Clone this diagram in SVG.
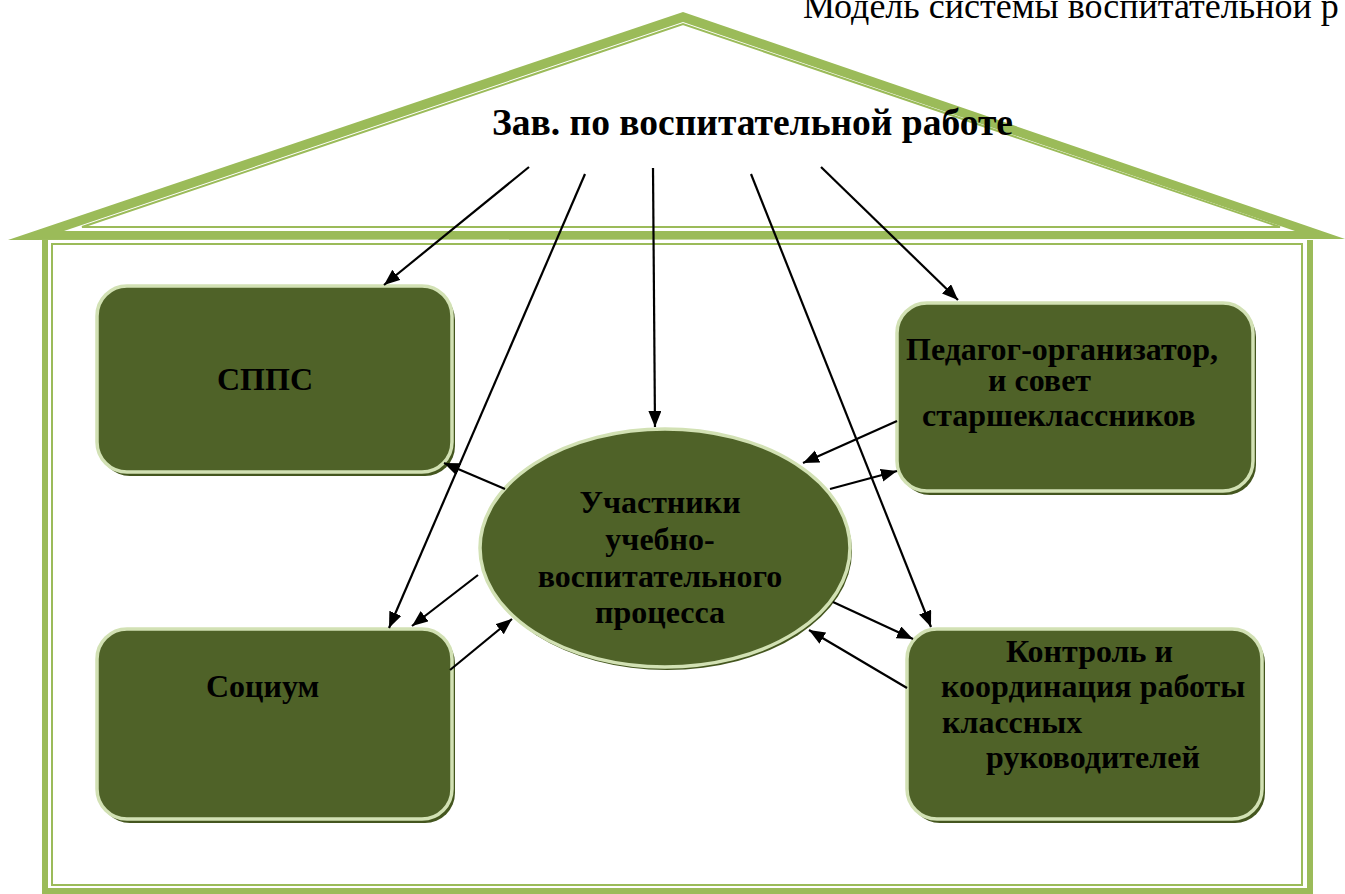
<svg xmlns="http://www.w3.org/2000/svg" width="1345" height="894" viewBox="0 0 1345 894">
<style>
.t{font-family:"Liberation Serif","Times New Roman",serif;font-weight:bold;font-size:32px;fill:#000}
.box{fill:#4F6228;stroke:#D2E1B4;stroke-width:3.5}
.shadow{fill:#44561F}
.conn line{stroke:#000;stroke-width:2.2;marker-end:url(#ah)}
.thin{fill:none;stroke:#9BBB59;stroke-width:2}
</style>
<defs>
<marker id="ah" markerUnits="userSpaceOnUse" markerWidth="17" markerHeight="14" refX="16" refY="6.5" orient="auto">
<path d="M0,0 L16,6.5 L0,13 z" fill="#000"/>
</marker>
</defs>
<rect width="1345" height="894" fill="#fff"/>
<g id="house">
<polygon points="8,240 683,12 1345,239" fill="#9BBB59"/>
<polygon points="64,231 683,22 1295,231" fill="#fff"/>
<polygon points="82,227 683,24 1280,227" class="thin"/>
<path d="M45,240 V891 H1310 V240" fill="none" stroke="#9BBB59" stroke-width="6"/>
<rect x="52" y="244" width="1250" height="641" class="thin"/>
</g>
<text x="803" y="18" font-family="Liberation Serif, Times New Roman, serif" font-size="36" fill="#000">Модель системы воспитательной р</text>
<g id="head">
<text class="t" x="492" y="135" style="font-size:37.5px">Зав. по воспитательной работе</text>
</g>
<g id="sppc">
<rect class="shadow" x="100" y="290" width="355" height="186" rx="30"/>
<rect class="box" x="97" y="286" width="355" height="186" rx="30"/>
<text class="t" x="217" y="390">СППС</text>
</g>
<g id="pedagog">
<rect class="shadow" x="900" y="307" width="356" height="188" rx="30"/>
<rect class="box" x="897" y="303" width="356" height="188" rx="30"/>
<text class="t" x="906" y="360">Педагог-организатор,</text>
<text class="t" x="988" y="391">и совет</text>
<text class="t" x="922" y="426">старшеклассников</text>
</g>
<g id="socium">
<rect class="shadow" x="100" y="633" width="355" height="190" rx="30"/>
<rect class="box" x="97" y="629" width="355" height="190" rx="30"/>
<text class="t" x="206" y="697">Социум</text>
</g>
<g id="control">
<rect class="shadow" x="910" y="633" width="355" height="190" rx="30"/>
<rect class="box" x="907" y="629" width="355" height="190" rx="30"/>
<text class="t" x="1006" y="662">Контроль и</text>
<text class="t" x="941" y="697">координация работы</text>
<text class="t" x="942" y="733">классных</text>
<text class="t" x="986" y="768">руководителей</text>
</g>
<g id="participants">
<ellipse class="shadow" cx="667" cy="551" rx="185" ry="119"/>
<ellipse class="box" cx="665" cy="548" rx="185" ry="119"/>
<text class="t" x="660" y="513" text-anchor="middle">Участники</text>
<text class="t" x="660" y="550" text-anchor="middle">учебно-</text>
<text class="t" x="660" y="587" text-anchor="middle">воспитательного</text>
<text class="t" x="660" y="623" text-anchor="middle">процесса</text>
</g>
<g id="connectors" class="conn">
<line x1="529" y1="167" x2="384" y2="285"/>
<line x1="585" y1="174" x2="389" y2="628"/>
<line x1="653" y1="168" x2="655" y2="427"/>
<line x1="751" y1="174" x2="931" y2="627"/>
<line x1="821" y1="167" x2="958" y2="300"/>
<line x1="505" y1="489" x2="444" y2="463"/>
<line x1="897" y1="421" x2="803" y2="463"/>
<line x1="830" y1="489" x2="897" y2="471"/>
<line x1="478" y1="575" x2="412" y2="626"/>
<line x1="450" y1="670" x2="512" y2="619"/>
<line x1="833" y1="602" x2="913" y2="639"/>
<line x1="907" y1="688" x2="809" y2="630"/>
</g>
</svg>
